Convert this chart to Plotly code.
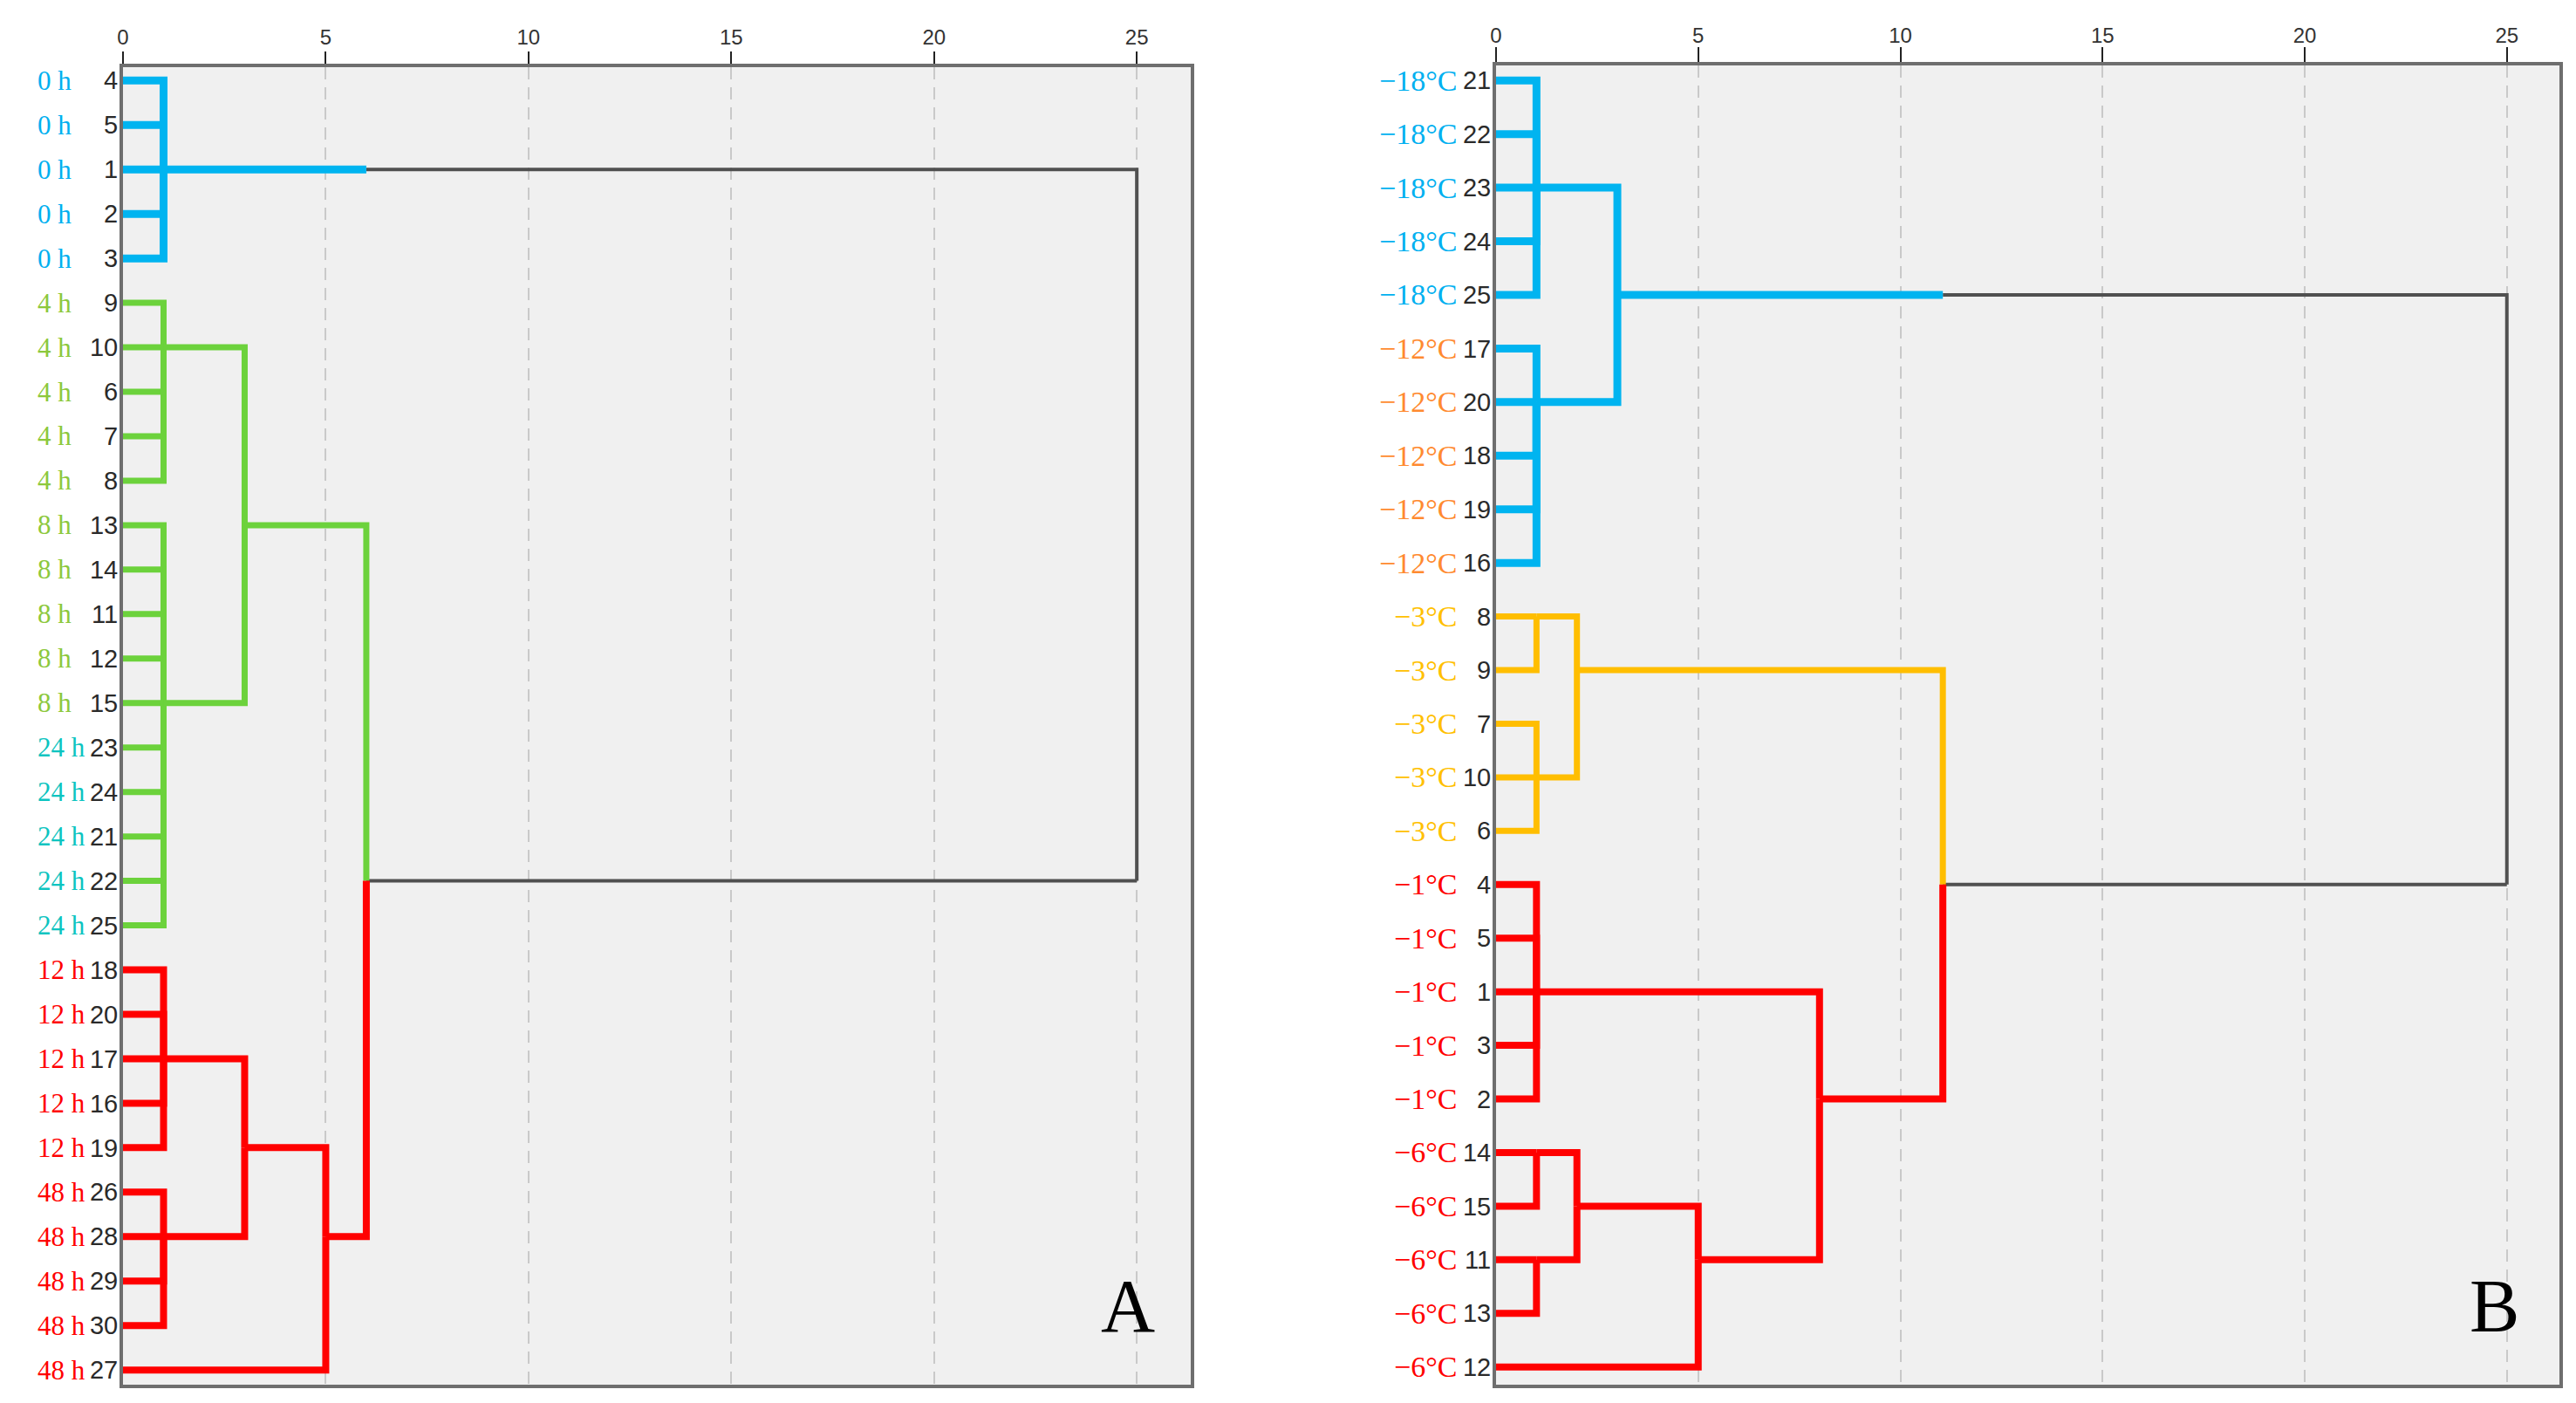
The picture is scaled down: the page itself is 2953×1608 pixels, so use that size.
import plotly.graph_objects as go

# page has an 8px body margin; figure is sized to fit inside the window
OFF = 8
W, H = 2953 - 2 * OFF, 1608 - 2 * OFF


def fx(px):
    return (px - OFF) / W


def fy(py):
    return 1 - (py - OFF) / H


# ---------------- Panel A data ----------------
A_leaf_ids = [4, 5, 1, 2, 3, 9, 10, 6, 7, 8, 13, 14, 11, 12, 15, 23, 24, 21, 22, 25,
              18, 20, 17, 16, 19, 26, 28, 29, 30, 27]
A_leaf_groups = ["0 h", "0 h", "0 h", "0 h", "0 h",
                 "4 h", "4 h", "4 h", "4 h", "4 h",
                 "8 h", "8 h", "8 h", "8 h", "8 h",
                 "24 h", "24 h", "24 h", "24 h", "24 h",
                 "12 h", "12 h", "12 h", "12 h", "12 h",
                 "48 h", "48 h", "48 h", "48 h", "48 h"]
A_group_colors = {"0 h": "#00B0F0", "4 h": "#8CC83C", "8 h": "#8CC83C",
                  "24 h": "#0CC4C0", "12 h": "#FF0000", "48 h": "#FF0000"}
# nodes (children: int = leaf row, str = node name)
A_node_names = ["a1", "a2", "a3", "a4", "a5", "a6", "a7", "a8", "a9", "root"]
A_node_children = [[0, 1, 2, 3, 4], [5, 6, 7, 8, 9],
                   [10, 11, 12, 13, 14, 15, 16, 17, 18, 19],
                   ["a2", "a3"], [20, 21, 22, 23, 24], [25, 26, 27, 28],
                   ["a5", "a6"], ["a7", 29], ["a4", "a8"], ["a1", "a9"]]
A_node_heights = [1, 1, 1, 3, 1, 1, 3, 5, 6, 25]
A_node_anchor_rows = [2, 6, 14, 10, 22, 26, 24, 26, 18, 18]
A_node_colors = ["blue", "green", "green", "green", "red", "red", "red", "red",
                 "black", "black"]
A_stem_breaks = {"a1": (6.0, "black")}

# ---------------- Panel B data ----------------
B_leaf_ids = [21, 22, 23, 24, 25, 17, 20, 18, 19, 16, 8, 9, 7, 10, 6,
              4, 5, 1, 3, 2, 14, 15, 11, 13, 12]
B_leaf_groups = ["−18°C", "−18°C", "−18°C", "−18°C", "−18°C",
                 "−12°C", "−12°C", "−12°C", "−12°C", "−12°C",
                 "−3°C", "−3°C", "−3°C", "−3°C", "−3°C",
                 "−1°C", "−1°C", "−1°C", "−1°C", "−1°C",
                 "−6°C", "−6°C", "−6°C", "−6°C", "−6°C"]
B_group_colors = {"−18°C": "#00B0F0", "−12°C": "#FF8A30", "−3°C": "#FFC000",
                  "−1°C": "#FF0000", "−6°C": "#FF0000"}
B_node_names = ["b1", "b2", "b3", "b4", "b5", "b6", "b7", "b8", "b9", "b10",
                "b11", "b12", "b13", "root"]
B_node_children = [[0, 1, 2, 3, 4], [5, 6, 7, 8, 9], ["b1", "b2"],
                   [10, 11], [12, 13, 14], ["b4", "b5"],
                   [15, 16, 17, 18, 19], [20, 21], [22, 23], ["b8", "b9"],
                   ["b10", 24], ["b7", "b11"], ["b6", "b12"], ["b3", "b13"]]
B_node_heights = [1, 1, 3, 1, 1, 2, 1, 1, 1, 2, 5, 8, 11.05, 25]
B_node_anchor_rows = [2, 6, 4, 10, 13, 11, 17, 20, 22, 21, 22, 19, 15, 15]
B_node_colors = ["blue", "blue", "blue", "orange", "orange", "orange",
                 "red", "red", "red", "red", "red", "red", "black", "black"]
B_stem_breaks = {"b3": (11.05, "black")}

x_ticks = [0, 5, 10, 15, 20, 25]

# ---------------- styles ----------------
LINE_STYLE = {
    "A": {"blue": ("#00B4F0", 9), "green": ("#6CD23C", 7), "red": ("#FF0000", 8),
          "black": ("#505050", 4)},
    "B": {"blue": ("#00B4F0", 9), "orange": ("#FFBE00", 7), "red": ("#FF0000", 8),
          "black": ("#505050", 4)},
}


def build_paths(names, children, heights, anchors, colors, breaks):
    info = {}
    paths = []  # (colorkey, xs, ys)
    for i, name in enumerate(names):
        h = heights[i]
        anc = anchors[i]
        for ch in children[i]:
            if isinstance(ch, int):
                ch_h, ch_row, ch_col = 0, ch, colors[i]
            else:
                ch_h, ch_row, ch_col = info[ch]
            if not isinstance(ch, int) and ch in breaks:
                bx, bcol = breaks[ch]
                paths.append((ch_col, [ch_h, bx], [ch_row, ch_row]))
                paths.append((bcol, [bx, h, h], [ch_row, ch_row, anc]))
            else:
                paths.append((ch_col, [ch_h, h, h], [ch_row, ch_row, anc]))
        info[name] = (h, anc, colors[i])
    return paths


fig = go.Figure()

panels = [
    ("A", "x", "y", A_node_names, A_node_children, A_node_heights,
     A_node_anchor_rows, A_node_colors, A_stem_breaks),
    ("B", "x2", "y2", B_node_names, B_node_children, B_node_heights,
     B_node_anchor_rows, B_node_colors, B_stem_breaks),
]

for key, xa, ya, names, children, heights, anchors, colors, breaks in panels:
    paths = build_paths(names, children, heights, anchors, colors, breaks)
    order = ["black"] + [c for c in LINE_STYLE[key] if c != "black"]
    for ckey in order:
        xs, ys = [], []
        for c, px, py in paths:
            if c == ckey:
                xs += px + [None]
                ys += py + [None]
        if not xs:
            continue
        col, wid = LINE_STYLE[key][ckey]
        fig.add_trace(go.Scatter(x=xs, y=ys, mode="lines", xaxis=xa, yaxis=ya,
                                 line=dict(color=col, width=wid),
                                 hoverinfo="skip", showlegend=False))

axis_common = dict(
    side="top", tickvals=x_ticks, ticks="outside", tickwidth=2, tickcolor="#222222",
    tickfont=dict(family="Liberation Sans Narrow, Liberation Sans, Arial", size=24,
                  color="#333333"),
    showline=True, mirror=True, linecolor="#6E6E6E", linewidth=4,
    showgrid=True, gridcolor="#C9C9C9", griddash="14px,9px", gridwidth=2,
    zeroline=False, fixedrange=True, automargin=False,
)
yaxis_common = dict(
    ticks="", showline=True, mirror=True, linecolor="#6E6E6E", linewidth=4,
    showgrid=False, zeroline=False, fixedrange=True, ticklabelstandoff=-4,
    automargin=False,
    tickfont=dict(family="Liberation Sans Narrow, Liberation Sans, Arial", size=29,
                  color="#2A2A2A"),
)

fig.update_layout(
    width=W, height=H, margin=dict(l=0, r=0, t=0, b=0, autoexpand=False),
    paper_bgcolor="white", plot_bgcolor="#F0F0F0", showlegend=False,
    xaxis=dict(axis_common, domain=[fx(141), fx(1365)], range=[0, 26.33],
               anchor="y", ticklen=14, ticklabelstandoff=-2),
    yaxis=dict(yaxis_common, domain=[fy(1587), fy(77)],
               range=[29.33, -0.3], anchor="x",
               tickvals=list(range(len(A_leaf_ids))),
               ticktext=[str(v) for v in A_leaf_ids]),
    xaxis2=dict(axis_common, domain=[fx(1715), fx(2934)], range=[0, 26.3],
                anchor="y2", ticklen=17, ticklabelstandoff=-5),
    yaxis2=dict(yaxis_common, domain=[fy(1587), fy(75)],
                range=[24.33, -0.28], anchor="x2",
                tickvals=list(range(len(B_leaf_ids))),
                ticktext=[str(v) for v in B_leaf_ids]),
)

annotations = []
for r, g in enumerate(A_leaf_groups):
    annotations.append(dict(xref="paper", yref="y", x=fx(41), y=r, text=g,
                            xanchor="left", yanchor="middle", showarrow=False,
                            font=dict(family="Liberation Serif, Times New Roman",
                                      size=31, color=A_group_colors[g])))
for r, g in enumerate(B_leaf_groups):
    annotations.append(dict(xref="paper", yref="y2", x=fx(1672), y=r, text=g,
                            xanchor="right", yanchor="middle", showarrow=False,
                            font=dict(family="Liberation Serif, Times New Roman",
                                      size=34, color=B_group_colors[g])))
for lab, xp in (("A", 1293), ("B", 2859)):
    annotations.append(dict(xref="paper", yref="paper", x=fx(xp), y=fy(1497),
                            text=lab, xanchor="center", yanchor="middle",
                            showarrow=False,
                            font=dict(family="Liberation Serif, Times New Roman",
                                      size=86, color="black")))
fig.update_layout(annotations=annotations)

fig.write_html("out.html")
